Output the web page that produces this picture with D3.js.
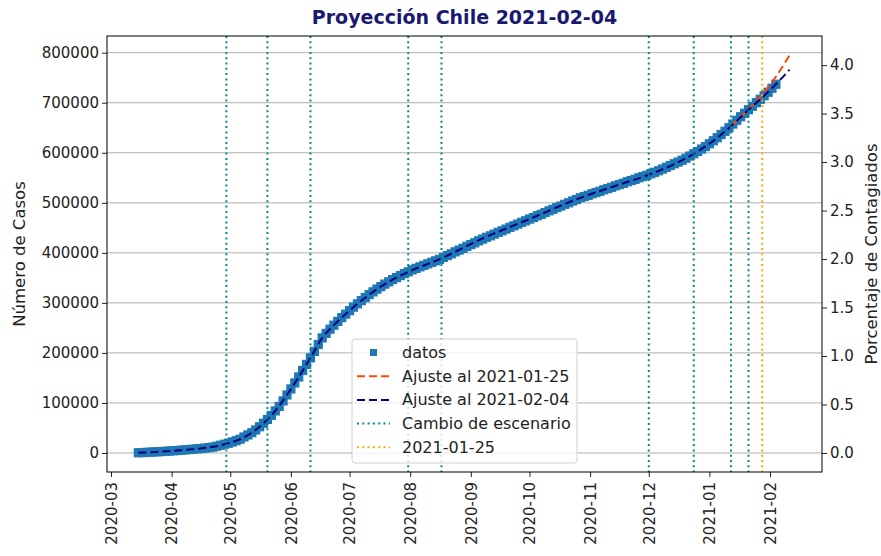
<!DOCTYPE html>
<html>
<head>
<meta charset="utf-8">
<script src="https://cdn.jsdelivr.net/npm/d3@7"></script>
<style>
  body { margin: 0; background: #fff; }
  text { font-family: "DejaVu Sans", sans-serif; }
</style>
</head>
<body>
<div id="chart"></div>
<script>
const width = 881;
const height = 556;
const marginTop = 36;
const marginRight = 59;
const marginBottom = 84;
const marginLeft = 107;

const titulo = "Proyección Chile 2021-02-04";
const poblacion = 19380000;

// casos acumulados, un dato cada 2 dias desde el 2020-03-15
const inicioDatos = "2020-03-15";
const casos = [
    500, 800, 1200, 1600, 2000, 2400, 2900, 3400, 3900, 4400,
    5000, 5600, 6200, 6900, 7600, 8300, 9000, 9800, 10700, 11700,
    13500, 15500, 17500, 19500, 22000, 24500, 27500, 32000, 36000, 40500,
    46000, 52500, 59500, 67000, 75000, 84000, 93000, 104000, 116000, 128000,
    140000, 152000, 165000, 177000, 190000, 203000, 217000, 230000, 239000, 247500,
    255500, 263000, 270500, 277500, 284500, 291500, 298000, 304500, 310500, 316500,
    322000, 327500, 332500, 337500, 342000, 346500, 350500, 354500, 358500, 362000,
    366000, 369000, 372000, 375000, 378000, 381000, 384000, 387000, 391000, 394500,
    398000, 402000, 405500, 409000, 413000, 416500, 420000, 424000, 427500, 431000,
    434000, 437500, 441000, 444000, 447500, 451000, 454000, 457500, 461000, 464000,
    467500, 470500, 474000, 477000, 480500, 484000, 487000, 490500, 493500, 497000,
    500000, 503500, 506500, 510000, 512500, 515000, 518000, 520500, 523000, 526000,
    528500, 531000, 534000, 536500, 539000, 542000, 544500, 547000, 550000, 552500,
    555000, 558000, 561000, 564000, 567500, 571000, 574500, 578000, 581500, 585000,
    589000, 593500, 598000, 602500, 607500, 612500, 618000, 624000, 630000, 636500,
    643000, 650000, 657500, 665000, 672000, 679000, 686000, 693000, 700000, 707000,
    714000, 721000, 729000, 737000
];

// ajuste con datos al 2021-02-04
const fechasAjuste0204 = [
    "2020-03-15", "2020-03-25", "2020-04-04", "2020-04-14", "2020-04-24", "2020-04-30",
    "2020-05-06", "2020-05-12", "2020-05-18", "2020-05-24", "2020-05-30", "2020-06-05",
    "2020-06-11", "2020-06-17", "2020-06-23", "2020-07-01", "2020-07-10", "2020-07-19",
    "2020-07-30", "2020-08-17", "2020-09-06", "2020-10-01", "2020-10-27", "2020-11-16",
    "2020-12-01", "2020-12-18", "2021-01-02", "2021-01-12", "2021-01-21", "2021-01-28",
    "2021-02-04", "2021-02-11"
];
const ajuste0204 = [
    500, 2400, 5000, 8300, 13500, 19500,
    27500, 40500, 59500, 84000, 116000, 152000,
    190000, 230000, 255500, 284500, 313500, 337500,
    360000, 389000, 427000, 467500, 510000, 536500,
    556000, 585000, 621000, 653000, 686000, 710500,
    737000, 766000
];

// ajuste con datos al 2021-01-25 (solo se ve al final)
const fechasAjuste0125 = ["2021-01-12", "2021-01-21", "2021-01-28", "2021-02-04", "2021-02-11"];
const ajuste0125 = [653000, 687000, 716000, 752000, 795000];

const cambiosEscenario = [
    "2020-04-29", "2020-05-20", "2020-06-11", "2020-07-31", "2020-08-17",
    "2020-12-01", "2020-12-24", "2021-01-12", "2021-01-21"
];
const fechaCorte = "2021-01-28";

const yTicks = [0, 100000, 200000, 300000, 400000, 500000, 600000, 700000, 800000];
const pctTicks = [0, 0.5, 1, 1.5, 2, 2.5, 3, 3.5, 4];

const leyenda = ["datos", "Ajuste al 2021-01-25", "Ajuste al 2021-02-04", "Cambio de escenario", "2021-01-25"];

const colorDatos = "#1f77b4";
const colorAjuste0125 = "orangered";
const colorAjuste0204 = "navy";
const colorCambio = "darkcyan";
const colorCorte = "orange";

const parse = d3.utcParse("%Y-%m-%d");

const x = d3.scaleUtc()
    .domain([new Date(Date.UTC(2020, 1, 27, 23)), new Date(Date.UTC(2021, 1, 27, 14))])
    .range([marginLeft, width - marginRight]);

const y = d3.scaleLinear()
    .domain([-38000, 833400])
    .range([height - marginBottom, marginTop]);

const yPct = d3.scaleLinear()
    .domain(y.domain().map(d => d / poblacion * 100))
    .range(y.range());

const datos = casos.map((v, i) => ({x: d3.utcDay.offset(parse(inicioDatos), 2 * i), y: v}));
const linea0204 = fechasAjuste0204.map((f, i) => ({x: parse(f), y: ajuste0204[i]}));
const linea0125 = fechasAjuste0125.map((f, i) => ({x: parse(f), y: ajuste0125[i]}));

const svg = d3.select("#chart").append("svg")
    .attr("width", width)
    .attr("height", height);

// grid horizontal
svg.append("g")
    .selectAll("line")
    .data(yTicks)
    .join("line")
    .attr("x1", marginLeft)
    .attr("x2", width - marginRight)
    .attr("y1", d => y(d))
    .attr("y2", d => y(d))
    .attr("stroke", "#b0b0b0")
    .attr("stroke-width", 1);

// datos
svg.append("g")
    .selectAll("rect")
    .data(datos)
    .join("rect")
    .attr("x", d => x(d.x) - 4)
    .attr("y", d => y(d.y) - 4)
    .attr("width", 8)
    .attr("height", 8)
    .attr("fill", colorDatos)
    .attr("stroke", colorDatos)
    .attr("stroke-width", 1.2);

const line = d3.line()
    .x(d => x(d.x))
    .y(d => y(d.y))
    .curve(d3.curveMonotoneX);

svg.append("path")
    .attr("fill", "none")
    .attr("stroke", colorAjuste0125)
    .attr("stroke-width", 2)
    .attr("stroke-dasharray", "8 4")
    .attr("d", line(linea0125));

svg.append("path")
    .attr("fill", "none")
    .attr("stroke", colorAjuste0204)
    .attr("stroke-width", 2)
    .attr("stroke-dasharray", "8 4")
    .attr("d", line(linea0204));

// lineas verticales
svg.append("g")
    .selectAll("line")
    .data(cambiosEscenario.map(parse))
    .join("line")
    .attr("x1", d => x(d))
    .attr("x2", d => x(d))
    .attr("y1", marginTop)
    .attr("y2", height - marginBottom)
    .attr("stroke", colorCambio)
    .attr("stroke-width", 2)
    .attr("stroke-dasharray", "2 3.3");

svg.append("line")
    .attr("x1", x(parse(fechaCorte)))
    .attr("x2", x(parse(fechaCorte)))
    .attr("y1", marginTop)
    .attr("y2", height - marginBottom)
    .attr("stroke", colorCorte)
    .attr("stroke-width", 2)
    .attr("stroke-dasharray", "2 3.3");

// ejes
const xAxis = svg.append("g")
    .attr("transform", `translate(0,${height - marginBottom})`)
    .call(d3.axisBottom(x)
        .ticks(d3.utcMonth.every(1))
        .tickFormat(d3.utcFormat("%Y-%m"))
        .tickSizeOuter(0)
        .tickSize(5));
xAxis.selectAll("text")
    .attr("transform", "rotate(-90)")
    .attr("text-anchor", "end")
    .attr("x", -10)
    .attr("y", 0)
    .attr("dy", "0.35em");

svg.append("g")
    .attr("transform", `translate(${marginLeft},0)`)
    .call(d3.axisLeft(y).tickValues(yTicks).tickFormat(d3.format("d")).tickSize(5).tickSizeOuter(0));

svg.append("g")
    .attr("transform", `translate(${width - marginRight},0)`)
    .call(d3.axisRight(yPct).tickValues(pctTicks).tickFormat(d3.format(".1f")).tickSize(5).tickSizeOuter(0));

svg.selectAll(".tick text")
    .attr("font-size", 15)
    .attr("font-family", "DejaVu Sans")
    .attr("fill", "#222");
svg.selectAll(".tick line").attr("stroke", "#222");
svg.selectAll(".domain").remove();

svg.append("rect")
    .attr("x", marginLeft)
    .attr("y", marginTop)
    .attr("width", width - marginLeft - marginRight)
    .attr("height", height - marginTop - marginBottom)
    .attr("fill", "none")
    .attr("stroke", "#000")
    .attr("stroke-width", 1);

// textos
svg.append("text")
    .attr("x", (marginLeft + width - marginRight) / 2)
    .attr("y", 24)
    .attr("text-anchor", "middle")
    .attr("font-size", 19)
    .attr("font-weight", "bold")
    .attr("fill", "#191970")
    .text(titulo);

svg.append("text")
    .attr("transform", `translate(19,${(marginTop + height - marginBottom) / 2}) rotate(-90)`)
    .attr("text-anchor", "middle")
    .attr("dominant-baseline", "central")
    .attr("font-size", 16.5)
    .attr("fill", "#222")
    .text("Número de Casos");

svg.append("text")
    .attr("transform", `translate(871,${(marginTop + height - marginBottom) / 2}) rotate(-90)`)
    .attr("text-anchor", "middle")
    .attr("dominant-baseline", "central")
    .attr("font-size", 16.5)
    .attr("fill", "#222")
    .text("Porcentaje de Contagiados");

// leyenda
const legend = svg.append("g").attr("transform", "translate(352,339)");
legend.append("rect")
    .attr("width", 225)
    .attr("height", 124)
    .attr("rx", 3)
    .attr("fill", "white")
    .attr("fill-opacity", 0.8)
    .attr("stroke", "#d0d0d0");

const estilos = [
    {tipo: "marca", color: colorDatos},
    {tipo: "linea", color: colorAjuste0125, dash: "8 4"},
    {tipo: "linea", color: colorAjuste0204, dash: "8 4"},
    {tipo: "linea", color: colorCambio, dash: "2 3.3"},
    {tipo: "linea", color: colorCorte, dash: "2 3.3"}
];

leyenda.forEach((nombre, i) => {
    const g = legend.append("g").attr("transform", `translate(0,${13.5 + i * 23.7})`);
    const e = estilos[i];
    if (e.tipo === "marca") {
        g.append("rect").attr("x", 18).attr("y", -3.5).attr("width", 7).attr("height", 7).attr("fill", e.color);
    } else {
        g.append("line")
            .attr("x1", 5).attr("x2", 38)
            .attr("stroke", e.color)
            .attr("stroke-width", 2)
            .attr("stroke-dasharray", e.dash);
    }
    g.append("text")
        .attr("x", 50)
        .attr("dominant-baseline", "central")
        .attr("font-size", 16)
        .attr("fill", "#222")
        .text(nombre);
});
</script>
</body>
</html>
